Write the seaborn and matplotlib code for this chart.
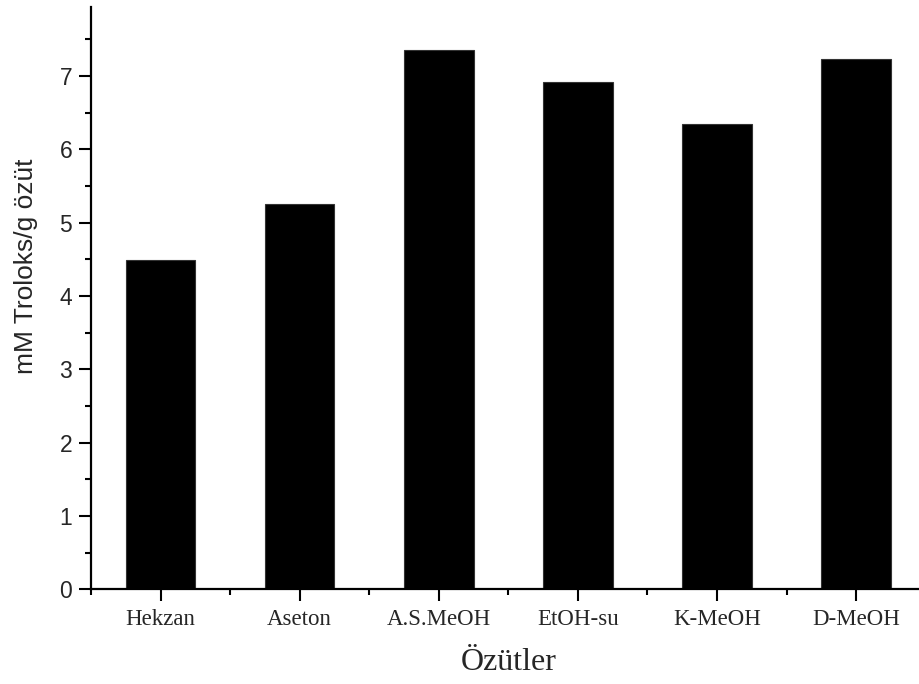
import matplotlib
matplotlib.use("Agg")
import matplotlib.pyplot as plt
from matplotlib.ticker import MultipleLocator, FixedLocator
import seaborn as sns
import pandas as pd

categories = ["Hekzan", "Aseton", "A.S.MeOH", "EtOH-su", "K-MeOH", "D-MeOH"]
values = [4.49, 5.26, 7.36, 6.92, 6.35, 7.23]

sns.set_style("ticks")
plt.rcParams["font.family"] = ["Liberation Sans", "DejaVu Sans"]

df = pd.DataFrame({"Özüt": categories, "Değer": values})

fig = plt.figure(figsize=(9.2, 6.84), dpi=100)
W, H = 920, 684
x0, x1 = 91, 925.7
y0, y1 = 589.3, 7
ax = fig.add_axes([x0 / W, (H - y0) / H, (x1 - x0) / W, (y0 - y1) / H])

sns.barplot(data=df, x="Özüt", y="Değer", color="black", saturation=1,
            width=0.5, edgecolor="#333333", linewidth=0.8, ax=ax)

ax.set_xlim(-0.5, 5.5)
ax.set_ylim(0, 7.94)

for side in ("top", "right"):
    ax.spines[side].set_visible(False)
for side in ("left", "bottom"):
    ax.spines[side].set_linewidth(1.6)
    ax.spines[side].set_color("black")

ax.yaxis.set_major_locator(MultipleLocator(1))
ax.yaxis.set_minor_locator(MultipleLocator(0.5))
ax.xaxis.set_minor_locator(FixedLocator([i + 0.5 for i in range(-1, 6)]))

ax.tick_params(axis="both", which="major", direction="out", length=8.5,
               width=1.5, color="black")
ax.tick_params(axis="both", which="minor", direction="out", length=4.5,
               width=1.5, color="black")
ax.tick_params(axis="y", labelsize=16.5, pad=5)
ax.tick_params(axis="x", pad=6)

ax.set_xticks(range(len(categories)))
ax.set_xticklabels(categories, fontsize=16.5, family=["Liberation Serif", "DejaVu Serif"])

ax.set_xlabel("Özütler", fontsize=23, family=["Liberation Serif", "DejaVu Serif"],
              labelpad=13)
ax.set_ylabel("mM Troloks/g özüt", fontsize=19)
ax.yaxis.set_label_coords(-0.063, 0.555)

fig.savefig("out.png", dpi=100)
